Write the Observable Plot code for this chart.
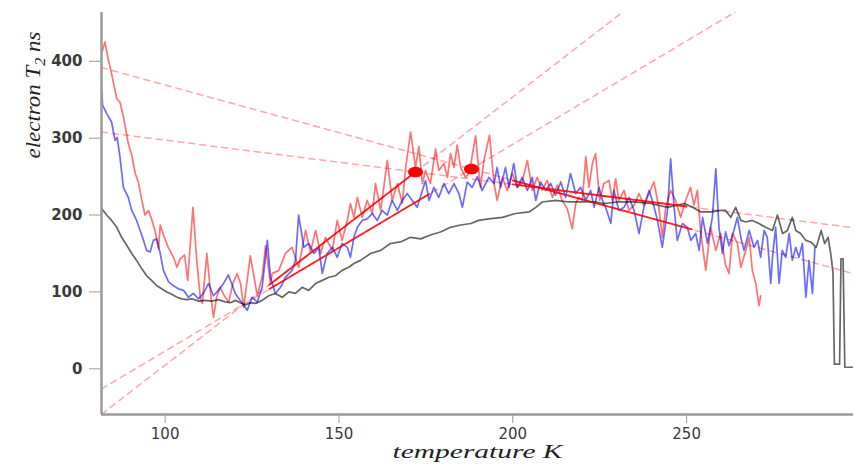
<!DOCTYPE html>
<html><head><meta charset="utf-8">
<script src="https://cdn.jsdelivr.net/npm/d3@7"></script>
<script src="https://cdn.jsdelivr.net/npm/@observablehq/plot@0.6"></script>
<style>body{margin:0;background:#fff}#chart svg{display:block}</style>
</head><body><div id="chart"></div>
<script>
// temperature (K), electron T2 (ns)
const redPoints = [[82.0,414],[82.7,425],[83.7,401],[84.6,384],[86.1,351],[87.0,347],[88.0,328],[89.4,293],[90.4,278],[91.4,254],[92.3,243],[93.3,219],[94.2,200],[95.2,206],[96.1,195],[97.1,180],[98.1,156],[98.6,187],[99.5,174],[100.9,158],[102.4,145],[103.4,132],[104.3,143],[105.6,148],[106.5,115],[108.0,210],[109.1,141],[110.1,93],[110.7,85],[112.0,150],[113.2,93],[113.9,67],[114.8,93],[115.8,106],[117.3,93],[118.3,87],[119.5,111],[120.7,124],[121.7,111],[122.6,80],[124.5,147],[125.4,124],[126.5,95],[127.9,119],[128.9,160],[130.3,111],[130.8,124],[132.7,128],[134.6,150],[136.5,158],[138.4,132],[140.4,180],[141.8,152],[143.3,180],[144.7,150],[146.1,171],[148.1,154],[149.5,193],[150.9,167],[152.4,193],[153.3,215],[154.3,197],[155.3,223],[156.7,197],[158.1,219],[159.6,202],[160.5,241],[162.0,206],[163.9,271],[165.3,219],[166.8,241],[168.2,215],[169.2,262],[170.6,308],[172.0,262],[173.0,289],[174.0,241],[174.9,258],[176.3,241],[177.8,286],[178.7,258],[180.2,267],[181.2,249],[182.1,280],[183.1,262],[184.0,291],[185.0,262],[186.4,249],[187.5,255],[189.3,303],[190.7,236],[191.7,271],[193.3,304],[194.6,241],[195.5,219],[197.0,249],[198.4,232],[199.9,254],[201.3,236],[202.7,243],[204.2,271],[205.6,232],[207.0,249],[208.5,232],[209.9,245],[211.4,223],[212.8,239],[214.2,219],[215.7,208],[217.1,182],[218.1,215],[219.0,223],[220.0,219],[221.0,276],[221.9,236],[222.9,267],[223.8,280],[225.0,219],[226.2,241],[227.7,245],[228.6,219],[229.6,247],[230.5,219],[232.0,232],[233.4,206],[234.9,213],[236.3,228],[237.7,213],[239.2,228],[240.6,243],[242.0,210],[243.0,171],[244.0,210],[245.4,232],[246.8,219],[248.3,197],[249.7,219],[251.1,236],[252.1,213],[253.1,232],[254.0,180],[255.5,128],[256.9,184],[258.4,154],[259.8,176],[261.2,135],[262.2,124],[263.2,176],[264.6,163],[265.6,132],[267.0,154],[268.0,171],[268.9,128],[269.9,111],[270.8,82],[271.3,95]];

const bluePoints = [[81.8,360],[82.0,343],[83.2,332],[84.6,321],[85.6,297],[86.2,301],[87.0,276],[88.0,236],[89.4,223],[90.4,206],[91.8,193],[92.8,180],[93.8,167],[94.7,154],[95.7,152],[96.6,167],[97.6,169],[98.6,150],[99.5,128],[101.0,113],[102.4,108],[103.8,104],[105.3,102],[106.7,93],[108.1,98],[109.6,91],[111.0,98],[112.5,111],[113.9,95],[115.3,102],[116.8,111],[118.2,122],[120.2,98],[122.2,85],[123.6,76],[125.0,93],[126.5,87],[127.9,106],[129.4,167],[130.3,119],[131.7,98],[133.2,106],[134.6,119],[136.5,128],[137.5,141],[138.4,200],[139.9,158],[141.3,163],[142.8,150],[144.2,158],[145.2,124],[146.6,150],[148.1,158],[149.5,145],[150.9,163],[152.4,158],[153.3,145],[154.3,171],[155.3,184],[156.7,193],[158.1,195],[159.6,202],[161.0,193],[162.4,206],[163.9,200],[165.3,219],[166.8,206],[168.2,219],[169.6,228],[171.1,219],[172.5,210],[174.0,232],[174.9,245],[175.9,219],[177.3,236],[178.7,223],[180.2,241],[181.6,228],[183.1,241],[184.5,228],[185.5,210],[186.9,243],[188.3,236],[189.8,250],[191.2,232],[193.1,249],[194.6,241],[195.5,262],[196.5,236],[197.9,262],[198.9,236],[200.3,267],[201.3,236],[202.7,249],[204.2,232],[205.6,249],[206.6,219],[208.0,243],[209.4,232],[210.9,241],[212.3,226],[213.8,243],[215.2,223],[216.6,254],[218.1,228],[219.5,236],[221.0,219],[222.4,232],[223.4,210],[224.8,236],[225.8,219],[226.7,210],[228.2,189],[229.1,232],[230.5,206],[232.0,210],[233.4,223],[234.9,206],[236.3,176],[237.7,210],[239.2,232],[240.4,215],[241.6,193],[243.0,158],[244.5,206],[245.4,273],[246.4,210],[247.3,167],[248.8,189],[250.2,184],[251.2,167],[252.6,176],[253.6,154],[254.6,197],[256.0,163],[257.4,197],[258.4,260],[259.3,184],[260.3,150],[261.2,178],[262.2,160],[263.6,180],[264.6,197],[265.6,171],[266.5,154],[268.0,180],[269.4,158],[270.4,167],[271.3,145],[272.3,180],[273.2,171],[274.2,111],[274.7,145],[275.6,184],[276.6,111],[277.5,154],[278.5,145],[279.5,176],[280.4,141],[281.4,158],[282.3,145],[283.3,163],[284.3,93],[285.2,141],[286.2,98],[286.9,158]];

const blackPoints = [[81.8,208],[83.2,200],[84.6,193],[86.1,184],[87.5,171],[88.9,161],[90.4,150],[91.8,141],[93.3,130],[94.7,121],[96.1,115],[97.6,108],[99.0,104],[100.5,100],[101.9,97],[103.4,93],[104.8,91],[106.2,90],[107.7,91],[109.6,88],[111.5,89],[113.4,88],[115.3,90],[117.3,87],[118.8,86],[120.2,89],[121.6,86],[123.1,83],[124.5,86],[126.0,85],[127.9,89],[129.8,95],[131.7,98],[133.7,93],[135.6,100],[137.5,98],[139.4,106],[141.3,102],[143.3,111],[145.2,115],[147.1,119],[149.0,121],[150.9,128],[152.8,132],[154.3,137],[156.2,141],[159.1,150],[162.0,154],[164.8,163],[167.7,165],[170.6,171],[173.5,169],[176.3,174],[179.2,178],[182.1,184],[185.0,187],[187.9,189],[190.2,193],[193.1,195],[197.0,197],[200.8,202],[204.7,204],[206.6,210],[208.5,217],[212.3,219],[216.1,217],[220.0,217],[223.8,217],[226.2,215],[230.1,217],[234.9,217],[239.7,215],[244.5,210],[249.3,215],[251.7,210],[254.1,204],[257.0,204],[259.9,206],[261.2,206],[262.7,197],[264.1,210],[265.6,193],[267.0,191],[268.9,193],[270.8,189],[272.7,184],[274.7,180],[276.1,200],[277.6,176],[279.0,180],[280.4,197],[281.4,180],[282.8,176],[284.3,167],[285.7,165],[287.3,158],[288.7,180],[289.7,163],[290.7,171],[291.6,145],[292.1,124],[292.5,6],[294.0,6],[294.4,143],[295.0,143],[295.5,2],[297.9,2]];

// linear fits: v = slope * T + intercept, drawn solid between fitFrom and fitTo
const fitSlope = [3.49, 2.69, -0.576, -1.24];
const fitIntercept = [-344.3, -246.0, 355.1, 493.2];
const fitFrom = [130, 130, 200, 200];
const fitTo = [172, 176, 250, 251.5];
const crossPairs = [[0, 2], [1, 3]];

const xDomain = [81.7, 298];
const yDomain = [-59.5, 463.5];
const xTicks = [100, 150, 200, 250];
const yTicks = [0, 100, 200, 300, 400];
const xLabel = "temperature K";
const yLabel = "electron T2 ns";

const toRows = (pts) => pts.map(([T, v]) => ({T, v}));
const fitVal = (i, T) => fitSlope[i] * T + fitIntercept[i];
const solidRows = fitSlope.flatMap((m, i) => [fitFrom[i], fitTo[i]].map(T => ({T, v: fitVal(i, T), fit: i})));
const dashRows = fitSlope.flatMap((m, i) => xDomain.map(T => ({T, v: fitVal(i, T), fit: i})));
const crossRows = crossPairs.map(([a, b]) => {
  const T = (fitIntercept[b] - fitIntercept[a]) / (fitSlope[a] - fitSlope[b]);
  return {T, v: fitVal(a, T)};
});

const ellipse = {
  draw(ctx, size) {
    const r = Math.sqrt(size / Math.PI), rx = r * 1.4, ry = r, k = 0.5523;
    ctx.moveTo(rx, 0);
    ctx.bezierCurveTo(rx, ry * k, rx * k, ry, 0, ry);
    ctx.bezierCurveTo(-rx * k, ry, -rx, ry * k, -rx, 0);
    ctx.bezierCurveTo(-rx, -ry * k, -rx * k, -ry, 0, -ry);
    ctx.bezierCurveTo(rx * k, -ry, rx, -ry * k, rx, 0);
    ctx.closePath();
  }
};

const lineOpts = {x: "T", y: "v", strokeWidth: 1.7, strokeLinejoin: "round", clip: true};

const svg = Plot.plot({
  width: 855, height: 464,
  marginLeft: 101, marginRight: 2, marginTop: 12, marginBottom: 50,
  style: {fontFamily: "DejaVu Sans", fontSize: "15px", background: "#fff"},
  x: {domain: xDomain},
  y: {domain: yDomain},
  marks: [
    Plot.line(dashRows, {x: "T", y: "v", z: "fit", stroke: "#ff0000", strokeOpacity: 0.35, strokeWidth: 1.5, strokeDasharray: "6,5", clip: true}),
    Plot.line(toRows(redPoints), {...lineOpts, stroke: "#ff0000", strokeOpacity: 0.55}),
    Plot.line(toRows(bluePoints), {...lineOpts, stroke: "#0000ff", strokeOpacity: 0.58}),
    Plot.line(toRows(blackPoints), {...lineOpts, stroke: "#000000", strokeOpacity: 0.6}),
    Plot.line(solidRows, {x: "T", y: "v", z: "fit", stroke: "#ff0000", strokeOpacity: 0.85, strokeWidth: 1.8}),
    Plot.dot(crossRows, {x: "T", y: "v", r: 5.3, symbol: ellipse, fill: "#ff0000", stroke: "none"}),
    Plot.ruleX([xDomain[0]], {stroke: "#9a9a9a", strokeWidth: 2.5}),
    Plot.ruleY([yDomain[0]], {stroke: "#9a9a9a", strokeWidth: 2.5}),
    Plot.axisY(yTicks, {tickSize: 12, tickPadding: 7, stroke: "#9a9a9a", fill: "#3a3a3a", fontWeight: "bold", fontSize: 15, label: null}),
    Plot.axisX(xTicks, {tickSize: 9, tickPadding: 5, stroke: "#9a9a9a", fill: "#3a3a3a", fontSize: 15, label: null}),
    Plot.text([xLabel], {frameAnchor: "bottom", dy: 43, fontSize: 18.5, fontStyle: "italic", fontFamily: "Liberation Serif", fill: "#222"}),
    Plot.text([yLabel], {frameAnchor: "left", dx: -68, dy: -55, rotate: -90, fontSize: 21, fontStyle: "italic", fontFamily: "Liberation Serif", fill: "#222"})
  ]
});
document.getElementById("chart").append(svg);

// stretch the math-style labels to the reference widths and set the subscript
d3.select(svg).selectAll("text").each(function () {
  const t = d3.select(this);
  if (this.textContent === xLabel) {
    t.attr("textLength", 170).attr("lengthAdjust", "spacingAndGlyphs");
  } else if (this.textContent === yLabel) {
    t.text(null);
    t.append("tspan").text("electron T");
    t.append("tspan").attr("dy", 5).attr("font-size", "0.7em").text("2");
    t.append("tspan").attr("dy", -5).text(" ns");
    t.attr("textLength", 127).attr("lengthAdjust", "spacingAndGlyphs");
  }
});
</script>
</body></html>
